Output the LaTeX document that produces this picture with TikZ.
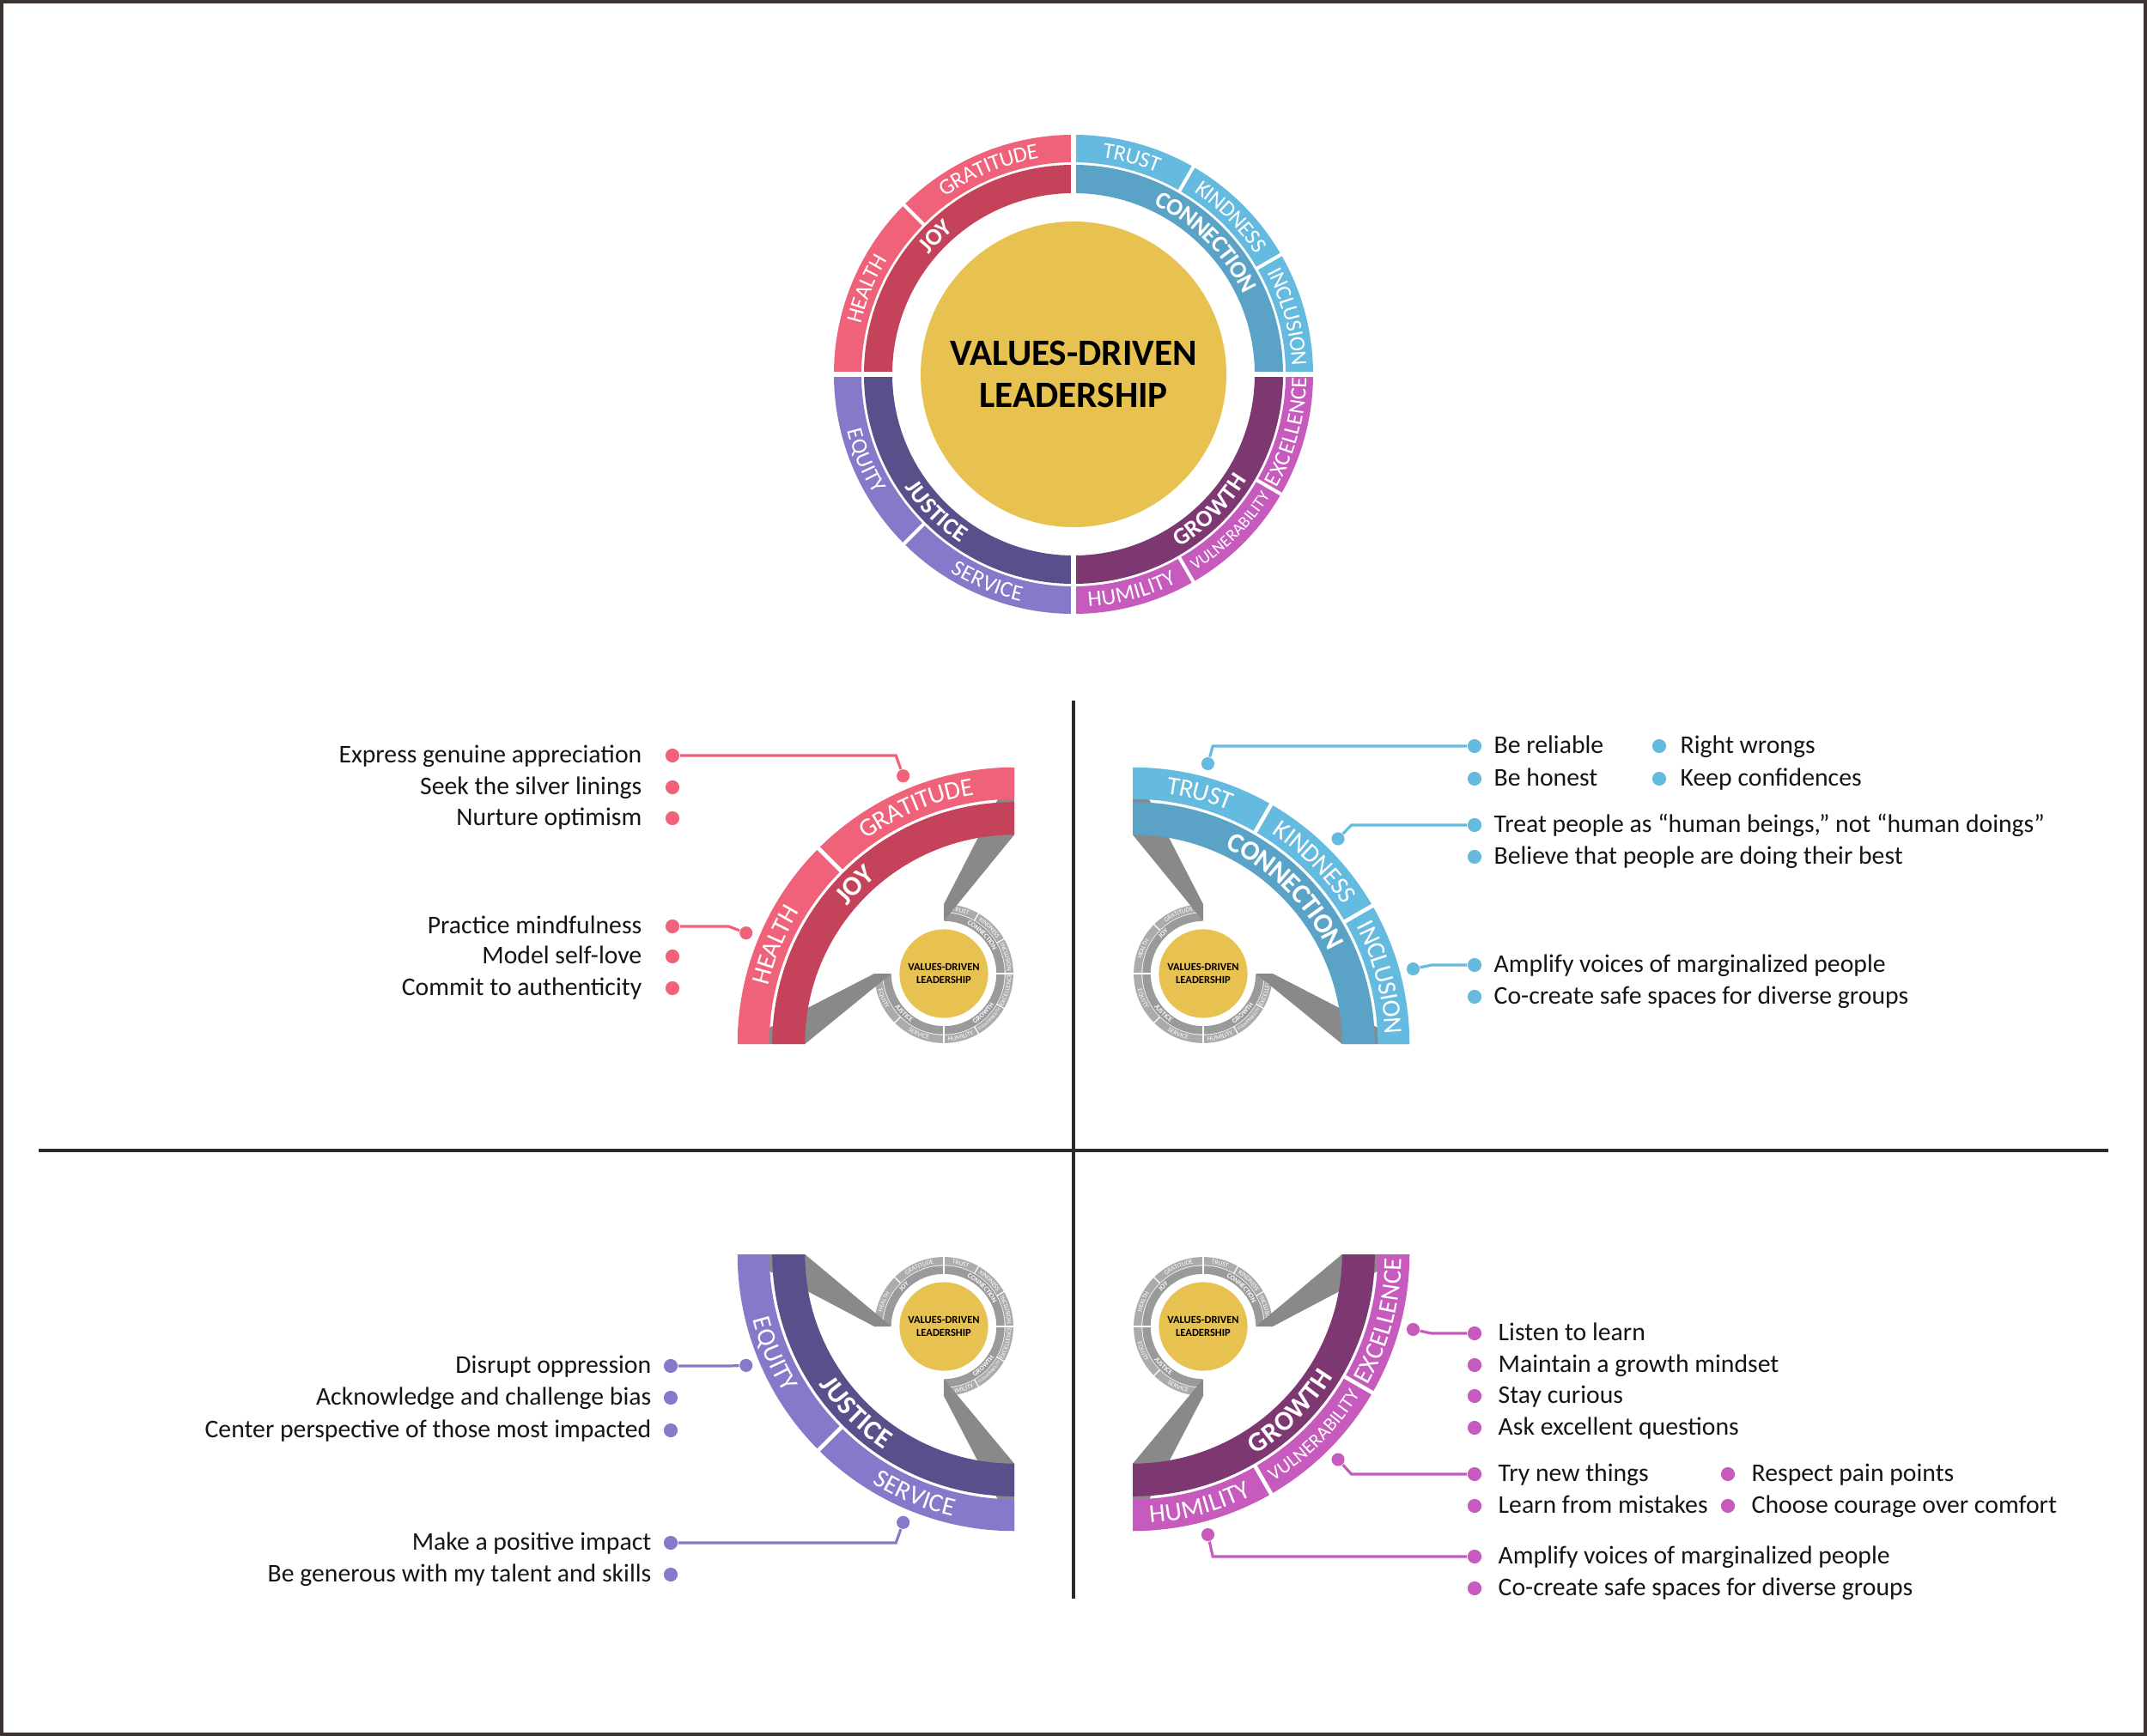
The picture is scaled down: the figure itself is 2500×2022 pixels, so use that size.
\documentclass[tikz,border=0pt]{standalone}
\usepackage{fontspec}
\setmainfont{Carlito}
\newfontfamily\ringbold{Carlito}[LetterSpace=18]
\usetikzlibrary{calc, decorations.text}

\definecolor{joyD}{HTML}{C4435A}
\definecolor{joyL}{HTML}{F0627A}
\definecolor{connD}{HTML}{5BA3C6}
\definecolor{connL}{HTML}{65BADF}
\definecolor{growD}{HTML}{7D3872}
\definecolor{growL}{HTML}{C65ABD}
\definecolor{justD}{HTML}{594F8B}
\definecolor{justL}{HTML}{8779C9}
\definecolor{miniD}{HTML}{9A9A9A}
\definecolor{miniL}{HTML}{ABABAB}
\definecolor{ribbongray}{HTML}{898989}
\definecolor{hubyellow}{HTML}{E8C250}
\definecolor{linedark}{HTML}{2B2B2B}
\definecolor{framedark}{HTML}{3A3330}
\definecolor{inkblack}{HTML}{151515}

% one quarter of the wheel: scale, start angle, dark colour, light colour, hub label, segments, dividers
\newcommand{\ringquad}[7]{%
  \pgfmathsetmacro{\rDi}{211*#1}%
  \pgfmathsetmacro{\rDo}{244*#1}%
  \pgfmathsetmacro{\rLi}{247*#1}%
  \pgfmathsetmacro{\rLo}{279*#1}%
  \pgfmathsetmacro{\rDm}{227.5*#1}%
  \pgfmathsetmacro{\rLm}{263*#1}%
  \pgfmathsetmacro{\rLa}{245*#1}%
  \pgfmathsetmacro{\rLb}{281*#1}%
  \pgfmathsetmacro{\lw}{1.14*#1}%
  \pgfmathsetmacro{\aE}{#2+90}%
  \pgfmathsetmacro{\aM}{#2+45}%
  \pgfmathsetmacro{\fd}{7.9*#1}%
  \pgfmathsetmacro{\rd}{-0.322*\fd}%
  \pgfmathsetmacro{\sg}{ifthenelse(and(\aM>0,\aM<180),-1,1)}%
  \pgfmathsetmacro{\tA}{\aM-40*\sg}%
  \pgfmathsetmacro{\tB}{\aM+40*\sg}%
  \fill[#3] (#2:\rDi) arc[start angle=#2, end angle=\aE, radius=\rDi]
    -- (\aE:\rDo) arc[start angle=\aE, end angle=#2, radius=\rDo] -- cycle;
  \path[decorate, decoration={text along path, text align=center, text color=white, raise=\rd pt,
      text={|\ringbold\bfseries\fontsize{\fd}{\fd}\selectfont|#5}}]
    (\tA:\rDm) arc[start angle=\tA, end angle=\tB, radius=\rDm];
  \foreach \sa/\sb/\lab/\fz in {#6} {
    \pgfmathsetmacro{\sm}{(\sa+\sb)/2}
    \pgfmathsetmacro{\fs}{7.4*#1*\fz}
    \pgfmathsetmacro{\rz}{-0.322*\fs}
    \pgfmathsetmacro{\sg}{ifthenelse(and(\sm>0,\sm<180),-1,1)}
    \pgfmathsetmacro{\tA}{\sm-30*\sg}
    \pgfmathsetmacro{\tB}{\sm+30*\sg}
    \fill[#4] (\sa:\rLi) arc[start angle=\sa, end angle=\sb, radius=\rLi]
      -- (\sb:\rLo) arc[start angle=\sb, end angle=\sa, radius=\rLo] -- cycle;
    \path[decorate, decoration={text along path, text align=center, text color=white, raise=\rz pt,
        text/.expanded={|\noexpand\fontsize{\fs}{\fs}\noexpand\selectfont|\lab}}]
      (\tA:\rLm) arc[start angle=\tA, end angle=\tB, radius=\rLm];
  }
  \foreach \dv in {#7} {\draw[white, line width=\lw pt] (\dv:\rLa) -- (\dv:\rLb);}
}
\newcommand{\joyq}[3]{\ringquad{#1}{90}{#2}{#3}{JOY}{90/135/GRATITUDE/1, 135/180/HEALTH/1}{135}}
\newcommand{\connq}[3]{\ringquad{#1}{0}{#2}{#3}{CONNECTION}{60/90/TRUST/1, 30/60/KINDNESS/1, 0/30/INCLUSION/1}{30,60}}
\newcommand{\growq}[3]{\ringquad{#1}{-90}{#2}{#3}{GROWTH}{-30/0/EXCELLENCE/1, -60/-30/VULNERABILITY/0.74, -90/-60/HUMILITY/1}{-30,-60}}
\newcommand{\justq}[3]{\ringquad{#1}{180}{#2}{#3}{JUSTICE}{180/225/EQUITY/1, 225/270/SERVICE/1}{225}}

% white gaps between quarters
\newcommand{\wheelgaps}[2]{%
  \pgfmathsetmacro{\ga}{208*#1}%
  \pgfmathsetmacro{\gb}{282*#1}%
  \pgfmathsetmacro{\gw}{1.7*#1}%
  \foreach \g in {#2} {\draw[white, line width=\gw pt] (\g:\ga) -- (\g:\gb);}
}
% yellow centre with its title
\newcommand{\wheelhub}[2]{%
  \pgfmathsetmacro{\hr}{178*#1}%
  \pgfmathsetmacro{\hf}{12.3*#1}%
  \pgfmathsetmacro{\hl}{14.2*#1}%
  \fill[hubfill] (0,0) circle (\hr);
  \node[font=\fontsize{\hf}{\hl}\selectfont\bfseries, align=center, text=black, inner sep=0pt] (#2) at (0,0) {VALUES-DRIVEN\\LEADERSHIP};
}
% grey band from the small wheel to the large quarter
\newcommand{\zoomband}[3]{%
  \fill[ribbon] ($(#1)+(#3:61.2)$) -- ($(#1)+(#3:80.9)$) -- ($(#2)+(#3:322.2)$) -- ($(#2)+(#3:243.7)$) -- cycle;
}

\begin{document}
\begin{tikzpicture}[x=0.01cm, y=0.01cm,
    listdot/.style={circle, fill=#1, inner sep=0pt, minimum size=4.6pt},
    arcdot/.style={circle, fill=#1, inner sep=0pt, minimum size=4.3pt},
    link/.style={draw=#1, line width=0.9pt},
    itemtxt/.style={font=\fontsize{8.45}{10}\selectfont, text=inkblack, inner sep=0pt},
    ribbon/.style={fill=ribbongray},
    divider/.style={draw=linedark, line width=1.15pt},
    outerframe/.style={draw=framedark, line width=1.2pt},
    hubfill/.style={fill=hubyellow},
]

% Canvas and frame
\useasboundingbox (0,0) rectangle (2500,-2022);
\fill[white] (0,0) rectangle (2500,-2022);
\draw[outerframe] (2,-2) rectangle (2498,-2020);

% Quadrant dividers
\draw[divider] (1250,-816) -- (1250,-1862);
\draw[divider] (45,-1340) -- (2455,-1340);

% Top: full wheel
\begin{scope}[shift={(1250,-436)}]
  \joyq{1}{joyD}{joyL}
  \connq{1}{connD}{connL}
  \growq{1}{growD}{growL}
  \justq{1}{justD}{justL}
  \wheelgaps{1}{0,90,180,270}
  \wheelhub{1}{hubtop}
\end{scope}

% JOY panel (top left)
\coordinate (joyc) at (1181,-1216);
\coordinate (joys) at (1099,-1134);
\begin{scope}[shift={(joys)}]
  \connq{0.29}{miniD}{miniL}
  \growq{0.29}{miniD}{miniL}
  \justq{0.29}{miniD}{miniL}
  \wheelgaps{0.29}{0,90,180,270}
  \wheelhub{0.29}{hubjoy}
\end{scope}
\zoomband{joys}{joyc}{90}
\zoomband{joys}{joyc}{180}
\begin{scope}[shift={(joyc)}]
  \joyq{1.155}{joyD}{joyL}
  \node[arcdot=joyL] (gratd) at (112.5:338) {};
  \coordinate (grate) at (112.5:360);
  \node[arcdot=joyL] (healthd) at (157.5:338) {};
  \coordinate (healthe) at (157.5:360);
\end{scope}

% CONNECTION panel (top right)
\coordinate (connc) at (1319,-1216);
\coordinate (conns) at (1401,-1134);
\begin{scope}[shift={(conns)}]
  \joyq{0.29}{miniD}{miniL}
  \growq{0.29}{miniD}{miniL}
  \justq{0.29}{miniD}{miniL}
  \wheelgaps{0.29}{0,90,180,270}
  \wheelhub{0.29}{hubconn}
\end{scope}
\zoomband{conns}{connc}{90}
\zoomband{conns}{connc}{0}
\begin{scope}[shift={(connc)}]
  \connq{1.155}{connD}{connL}
  \node[arcdot=connL] (trustd) at (75:338) {};
  \coordinate (truste) at (75:360);
  \node[arcdot=connL] (kindd) at (45:338) {};
  \coordinate (kinde) at (45:360);
  \node[arcdot=connL] (incld) at (15:338) {};
  \coordinate (incle) at (15:360);
\end{scope}

% JUSTICE panel (bottom left)
\coordinate (justc) at (1181,-1461);
\coordinate (justs) at (1099,-1545);
\begin{scope}[shift={(justs)}]
  \joyq{0.29}{miniD}{miniL}
  \connq{0.29}{miniD}{miniL}
  \growq{0.29}{miniD}{miniL}
  \wheelgaps{0.29}{0,90,180,270}
  \wheelhub{0.29}{hubjust}
\end{scope}
\zoomband{justs}{justc}{180}
\zoomband{justs}{justc}{270}
\begin{scope}[shift={(justc)}]
  \justq{1.155}{justD}{justL}
  \node[arcdot=justL] (equid) at (202.5:338) {};
  \coordinate (equie) at (202.5:360);
  \node[arcdot=justL] (servd) at (247.5:338) {};
  \coordinate (serve) at (247.5:360);
\end{scope}

% GROWTH panel (bottom right)
\coordinate (growc) at (1319,-1461);
\coordinate (grows) at (1401,-1545);
\begin{scope}[shift={(grows)}]
  \joyq{0.29}{miniD}{miniL}
  \connq{0.29}{miniD}{miniL}
  \justq{0.29}{miniD}{miniL}
  \wheelgaps{0.29}{0,90,180,270}
  \wheelhub{0.29}{hubgrow}
\end{scope}
\zoomband{grows}{growc}{0}
\zoomband{grows}{growc}{270}
\begin{scope}[shift={(growc)}]
  \growq{1.155}{growD}{growL}
  \node[arcdot=growL] (exceld) at (-15:338) {};
  \coordinate (excele) at (-15:360);
  \node[arcdot=growL] (vulnd) at (-45:338) {};
  \coordinate (vulne) at (-45:360);
  \node[arcdot=growL] (humid) at (-75:338) {};
  \coordinate (humie) at (-75:360);
\end{scope}

% Lists
\foreach \y/\txt [count=\i] in {880/Express genuine appreciation, 917/Seek the silver linings,
    953/Nurture optimism, 1079/Practice mindfulness, 1114/Model self-love, 1151/Commit to authenticity} {
  \node[listdot=joyL] (joyd\i) at (783,-\y) {};
  \node[itemtxt, anchor=mid east] (joyt\i) at (748,-\y) {\txt};
}
\foreach \y/\txt [count=\i] in {869/Be reliable, 907/Be honest,
    961/{Treat people as “human beings,” not “human doings”}, 998/Believe that people are doing their best,
    1124/Amplify voices of marginalized people, 1161/Co-create safe spaces for diverse groups} {
  \node[listdot=connL] (connd\i) at (1717,-\y) {};
  \node[itemtxt, anchor=mid west] (connt\i) at (1739,-\y) {\txt};
}
\foreach \y/\txt [count=\i] in {869/Right wrongs, 907/Keep confidences} {
  \node[listdot=connL] (connx\i) at (1932,-\y) {};
  \node[itemtxt, anchor=mid west] (connu\i) at (1956,-\y) {\txt};
}
\foreach \y/\txt [count=\i] in {1591/Disrupt oppression, 1628/Acknowledge and challenge bias,
    1666/Center perspective of those most impacted, 1797/Make a positive impact,
    1834/Be generous with my talent and skills} {
  \node[listdot=justL] (justd\i) at (781,-\y) {};
  \node[itemtxt, anchor=mid east] (justt\i) at (759,-\y) {\txt};
}
\foreach \y/\txt [count=\i] in {1553/Listen to learn, 1590/Maintain a growth mindset, 1626/Stay curious,
    1663/Ask excellent questions, 1717/Try new things, 1754/Learn from mistakes,
    1813/Amplify voices of marginalized people, 1850/Co-create safe spaces for diverse groups} {
  \node[listdot=growL] (growd\i) at (1717,-\y) {};
  \node[itemtxt, anchor=mid west] (growt\i) at (1744,-\y) {\txt};
}
\foreach \y/\txt [count=\i] in {1717/Respect pain points, 1754/Choose courage over comfort} {
  \node[listdot=growL] (growx\i) at (2012,-\y) {};
  \node[itemtxt, anchor=mid west] (growu\i) at (2039,-\y) {\txt};
}

% Connectors from the lists to the rings
\draw[link=joyL] (joyd1) -- (joyd1 -| grate) -- (gratd);
\draw[link=joyL] (joyd4) -- (joyd4 -| healthe) -- (healthd);
\draw[link=connL] (connd1) -- (connd1 -| truste) -- (trustd);
\draw[link=connL] (connd3) -- (connd3 -| kinde) -- (kindd);
\draw[link=connL] (connd5) -- (connd5 -| incle) -- (incld);
\draw[link=justL] (justd1) -- (justd1 -| equie) -- (equid);
\draw[link=justL] (justd4) -- (justd4 -| serve) -- (servd);
\draw[link=growL] (growd1) -- (growd1 -| excele) -- (exceld);
\draw[link=growL] (growd5) -- (growd5 -| vulne) -- (vulnd);
\draw[link=growL] (growd7) -- (growd7 -| humie) -- (humid);

\end{tikzpicture}
\end{document}
